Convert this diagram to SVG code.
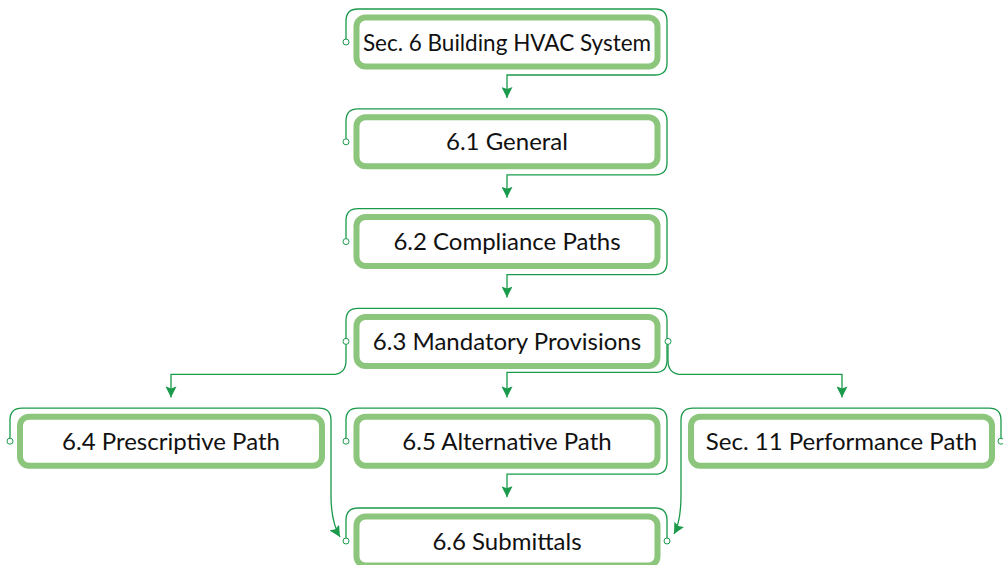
<svg xmlns="http://www.w3.org/2000/svg" width="1003" height="565" viewBox="0 0 1003 565">
<defs>
<marker id="arr" markerUnits="userSpaceOnUse" markerWidth="11" markerHeight="11" viewBox="0 0 11 11" refX="11" refY="5.5" orient="auto">
<path d="M0,0 L11,5.5 L0,11 L2,5.5 z" fill="#1a9a4a"/>
</marker>
<style>
.box{fill:#fff;stroke:#8cc67c;stroke-width:6}
.lbl{font-family:Lato,"Open Sans",sans-serif;font-size:24px;fill:#111;text-anchor:middle}
.wire{fill:none;stroke:#1a9a4a;stroke-width:1.3}
.port{fill:#fff;stroke:#1a9a4a;stroke-width:1}
</style>
</defs>
<rect width="1003" height="565" fill="#fff"/>
<g id="connectors">
<path class="wire" d="M346 42 V21 Q346 9 358 9 H655 Q667 9 667 21 V63 Q667 75 655 75 H507 V98" marker-end="url(#arr)"/>
<path class="wire" d="M346 141.8 V120.8 Q346 108.8 358 108.8 H655 Q667 108.8 667 120.8 V162.8 Q667 174.8 655 174.8 H507 V197.8" marker-end="url(#arr)"/>
<path class="wire" d="M346 241.6 V220.6 Q346 208.6 358 208.6 H655 Q667 208.6 667 220.6 V262.6 Q667 274.6 655 274.6 H507 V297.6" marker-end="url(#arr)"/>
<path class="wire" d="M346 341.4 V320.4 Q346 308.4 358 308.4 H655 Q667 308.4 667 320.4 V360.4 Q667 372.4 655 372.4 H507 V397.4" marker-end="url(#arr)"/>
<path class="wire" d="M346 341.4 V360.4 Q346 374.4 332 374.4 H171 V397.4" marker-end="url(#arr)"/>
<path class="wire" d="M668 341.4 V360.4 Q668 374.4 682 374.4 H842 V397.4" marker-end="url(#arr)"/>
<path class="wire" d="M10 441.2 V420.2 Q10 408.2 22 408.2 H319 Q331 408.2 331 420.2 V495 Q331 522 340 537" marker-end="url(#arr)"/>
<path class="wire" d="M346 441.2 V420.2 Q346 408.2 358 408.2 H655 Q667 408.2 667 420.2 V462.2 Q667 474.2 655 474.2 H507 V497.2" marker-end="url(#arr)"/>
<path class="wire" d="M1001 441.2 V420.2 Q1001 408.2 989 408.2 H693 Q681 408.2 681 420.2 V495 Q681 521 674 534" marker-end="url(#arr)"/>
<path class="wire" d="M346 541 V520 Q346 508 358 508 H655 Q667 508 667 520 V541"/>
<circle class="port" cx="346" cy="42" r="3"/>
<circle class="port" cx="346" cy="141.8" r="3"/>
<circle class="port" cx="346" cy="241.6" r="3"/>
<circle class="port" cx="346" cy="341.4" r="3"/>
<circle class="port" cx="668" cy="341.4" r="3"/>
<circle class="port" cx="10" cy="441.2" r="3"/>
<circle class="port" cx="346" cy="441.2" r="3"/>
<circle class="port" cx="1001" cy="441.2" r="3"/>
<circle class="port" cx="346" cy="541" r="3"/>
<circle class="port" cx="667" cy="541" r="3"/>
</g>
<g id="n0"><rect class="box" x="356.5" y="17.5" width="301" height="49" rx="9"/><text class="lbl" x="507" y="50.5" style="font-size:22.5px">Sec. 6 Building HVAC System</text></g>
<g id="n1"><rect class="box" x="356.5" y="117.3" width="301" height="49" rx="9"/><text class="lbl" x="507" y="150.3">6.1 General</text></g>
<g id="n2"><rect class="box" x="356.5" y="217.1" width="301" height="49" rx="9"/><text class="lbl" x="507" y="250.1">6.2 Compliance Paths</text></g>
<g id="n3"><rect class="box" x="356.5" y="316.9" width="301" height="49" rx="9"/><text class="lbl" x="507" y="349.9">6.3 Mandatory Provisions</text></g>
<g id="n4"><rect class="box" x="20" y="416.7" width="302" height="49" rx="9"/><text class="lbl" x="171" y="449.7">6.4 Prescriptive Path</text></g>
<g id="n5"><rect class="box" x="356.5" y="416.7" width="301" height="49" rx="9"/><text class="lbl" x="507" y="449.7">6.5 Alternative Path</text></g>
<g id="n6"><rect class="box" x="691" y="416.7" width="301" height="49" rx="9"/><text class="lbl" x="841.5" y="449.7">Sec. 11 Performance Path</text></g>
<g id="n7"><rect class="box" x="356.5" y="516.5" width="301" height="49" rx="9"/><text class="lbl" x="507" y="549.5">6.6 Submittals</text></g>
</svg>
